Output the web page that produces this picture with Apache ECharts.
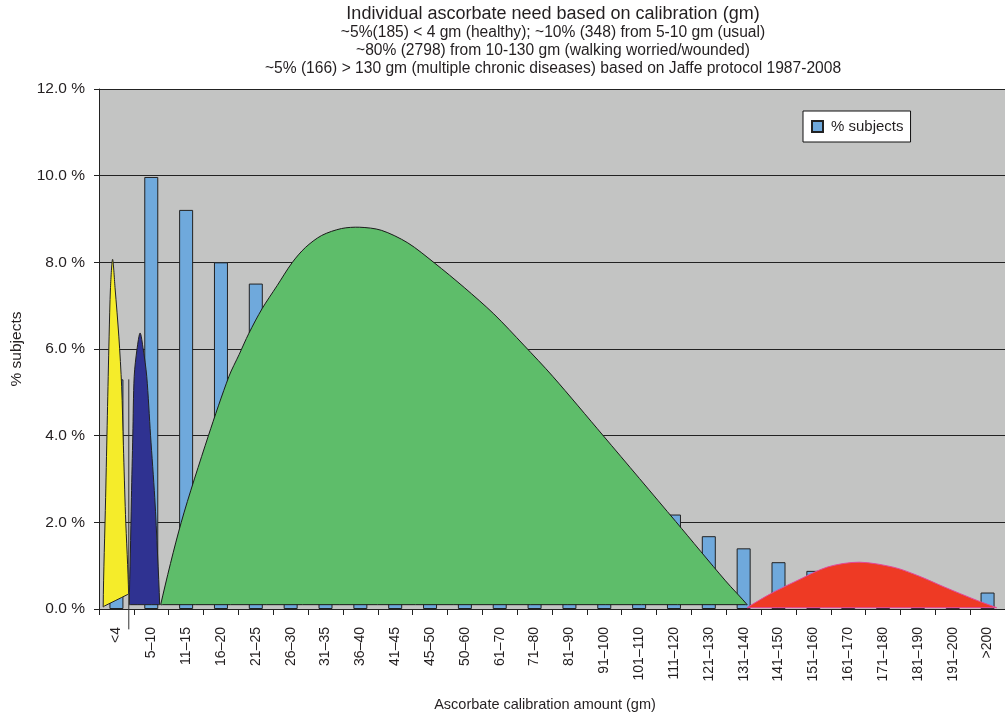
<!DOCTYPE html>
<html><head><meta charset="utf-8">
<script src="https://cdn.jsdelivr.net/npm/echarts@6/dist/echarts.min.js"></script>
<style>html,body{margin:0;padding:0;background:#fff}#c{width:1005px;height:717px}</style>
</head><body><div id="c"></div>
<script>
// Categories (x axis tick labels)
const categories = ['<4','5–10','11–15','16–20','21–25','26–30','31–35','36–40','41–45','45–50','50–60','61–70','71–80','81–90','91–100','101–110','111–120','121–130','131–140','141–150','151–160','161–170','171–180','181–190','191–200','>200'];
// % subjects per category (bars)
const subjectsPct = [5.30, 9.97, 9.21, 8.00, 7.51, 6.80, 6.20, 5.60, 5.00, 4.50, 4.10, 3.70, 3.30, 3.00, 2.70, 2.45, 2.18, 1.68, 1.40, 1.08, 0.88, 0.75, 0.60, 0.50, 0.30, 0.38];
// Overlay shapes, outline points as [position in category units, % subjects]
const yellowPts = [[0.12,0.05],[0.19,2.57],[0.24,4.46],[0.29,6.28],[0.33,7.42],[0.39,8.07],[0.46,7.42],[0.57,6.28],[0.65,5.14],[0.70,3.77],[0.76,2.18],[0.85,0.35],[0.81,0.33],[0.16,0.07]];
const navyPts = [[0.87,0.10],[0.90,1.27],[0.93,2.57],[0.97,4.00],[1.01,5.37],[1.09,5.99],[1.18,6.37],[1.27,5.99],[1.37,5.37],[1.48,4.00],[1.60,2.57],[1.68,1.27],[1.74,0.10],[1.71,0.10],[0.90,0.10]];
const greenPts = [[1.77,0.10],[2.36,2.00],[3.14,4.00],[3.73,5.37],[4.02,5.87],[4.30,6.36],[4.68,6.93],[5.11,7.46],[5.54,7.99],[5.92,8.34],[6.39,8.62],[6.96,8.78],[7.48,8.81],[8.10,8.74],[8.86,8.45],[9.62,7.99],[10.48,7.42],[11.33,6.81],[12.19,6.09],[13.02,5.37],[14.47,4.00],[16.55,2.02],[17.98,0.65],[18.60,0.10],[18.55,0.10],[1.82,0.10]];
const redPts = [[18.60,0.03],[19.27,0.35],[19.97,0.63],[20.91,0.97],[21.82,1.08],[22.82,0.96],[23.53,0.76],[24.25,0.51],[25.19,0.20],[25.76,0.03],[25.71,0.03],[18.65,0.03]];
const separatorPts = [[0.855,5.3],[0.855,-0.47]];

const FONT = '"Liberation Sans", Arial, Helvetica, sans-serif';
const chart = echarts.init(document.getElementById('c'), null, {renderer: 'canvas'});

function shapeSeries(name, pts, fill, stroke) {
  return {
    type: 'custom', name: name, xAxisIndex: 1, yAxisIndex: 0, z: 5, silent: true, clip: false,
    data: pts, encode: {x: 0, y: 1},
    renderItem: function (params, api) {
      if (params.dataIndex !== 0) return null;
      const points = pts.map(p => api.coord(p));
      return {type: 'polygon', shape: {points: points, smooth: 0.3}, style: {fill: fill, stroke: stroke, lineWidth: 1}};
    }
  };
}

chart.setOption({
  animation: false,
  backgroundColor: '#ffffff',
  title: {
    text: 'Individual ascorbate need based on calibration (gm)',
    subtext: '~5%(185) < 4 gm (healthy); ~10% (348) from 5-10 gm (usual)\n~80% (2798) from 10-130 gm (walking worried/wounded)\n~5% (166) > 130 gm (multiple chronic diseases) based on Jaffe protocol 1987-2008',
    left: 553, top: 4, textAlign: 'center', padding: 0, itemGap: 0,
    textStyle: {fontFamily: FONT, fontSize: 18, fontWeight: 'normal', color: '#231f20', lineHeight: 20},
    subtextStyle: {fontFamily: FONT, fontSize: 15.6, color: '#231f20', lineHeight: 18}
  },
  legend: {
    data: ['% subjects'], left: 803, top: 111, orient: 'vertical',
    backgroundColor: '#ffffff', borderColor: '#111', borderWidth: 1, borderRadius: 0,
    padding: [8, 7, 8, 8], itemWidth: 11, itemHeight: 11, icon: 'rect',
    textStyle: {fontFamily: FONT, fontSize: 15, color: '#231f20', padding: [0, 0, 0, 3]}
  },
  grid: {left: 99, right: -7, top: 89, bottom: 101.5, show: true, backgroundColor: '#c3c4c3', borderWidth: 0},
  xAxis: [{
    type: 'category', data: categories, boundaryGap: true,
    name: 'Ascorbate calibration amount (gm)', nameLocation: 'middle', nameGap: 88,
    nameTextStyle: {fontFamily: FONT, fontSize: 14.5, color: '#231f20', padding: [0, 14, 0, 0]},
    axisLine: {show: true, lineStyle: {color: '#222', width: 1}},
    axisTick: {show: true, alignWithLabel: false, length: 6, lineStyle: {color: '#222'}},
    axisLabel: {rotate: 90, interval: 0, margin: 18, fontFamily: FONT, fontSize: 14, color: '#231f20'},
    splitLine: {show: false}
  }, {
    type: 'value', min: 0, max: 26, show: false
  }],
  yAxis: {
    type: 'value', min: 0, max: 12, interval: 2,
    name: '% subjects', nameLocation: 'middle', nameGap: 74,
    nameTextStyle: {fontFamily: FONT, fontSize: 15.5, color: '#231f20'},
    axisLine: {show: true, lineStyle: {color: '#222', width: 1}},
    axisTick: {show: true, inside: false, length: 5, lineStyle: {color: '#222'}},
    axisLabel: {margin: 14, fontFamily: FONT, fontSize: 15.5, color: '#231f20', formatter: v => v.toFixed(1) + ' %'},
    splitLine: {show: true, lineStyle: {color: '#222', width: 1}}
  },
  series: [
    {
      type: 'bar', name: '% subjects', data: subjectsPct, barWidth: 14, z: 2,
      itemStyle: {color: '#6fa9dc', borderColor: '#222', borderWidth: 1}
    },
    shapeSeries('yellow', yellowPts, '#f5ec2a', '#222'),
    shapeSeries('navy', navyPts, '#2f3291', '#222'),
    shapeSeries('green', greenPts, '#5ebd6a', '#1a1a1a'),
    shapeSeries('red', redPts, '#ee3a24', '#e4479a'),
    {
      type: 'custom', name: 'separator', xAxisIndex: 1, yAxisIndex: 0, z: 6, silent: true, clip: false,
      data: separatorPts, encode: {x: 0, y: 1},
      renderItem: function (params, api) {
        if (params.dataIndex !== 0) return null;
        return {type: 'polyline', shape: {points: separatorPts.map(p => api.coord(p))}, style: {stroke: '#333', lineWidth: 1, fill: null}};
      }
    }
  ]
});
</script></body></html>
